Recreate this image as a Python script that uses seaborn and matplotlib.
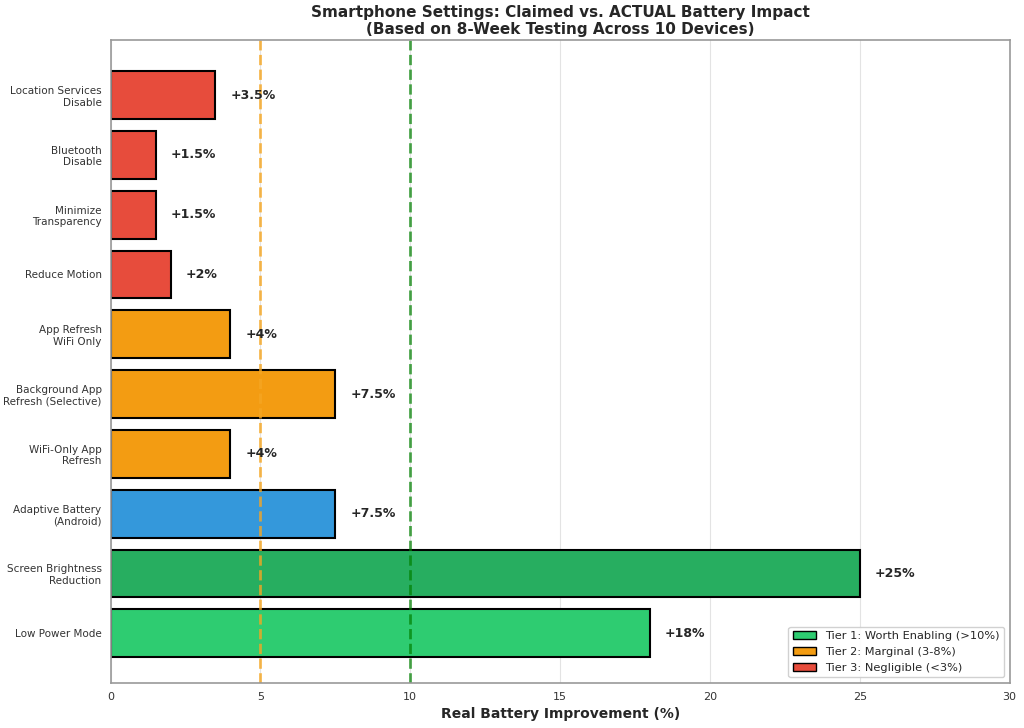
import matplotlib
matplotlib.use("Agg")
import matplotlib.pyplot as plt
import seaborn as sns
from matplotlib.patches import Patch

# Settings listed top to bottom as they appear on the chart
settings = [
    "Location Services\nDisable",
    "Bluetooth\nDisable",
    "Minimize\nTransparency",
    "Reduce Motion",
    "App Refresh\nWiFi Only",
    "Background App\nRefresh (Selective)",
    "WiFi-Only App\nRefresh",
    "Adaptive Battery\n(Android)",
    "Screen Brightness\nReduction",
    "Low Power Mode",
]
improvement = [3.5, 1.5, 1.5, 2, 4, 7.5, 4, 7.5, 25, 18]
value_labels = ["+3.5%", "+1.5%", "+1.5%", "+2%", "+4%", "+7.5%", "+4%", "+7.5%", "+25%", "+18%"]
bar_colors = ["#e74c3c", "#e74c3c", "#e74c3c", "#e74c3c", "#f39c12",
              "#f39c12", "#f39c12", "#3498db", "#27ae60", "#2ecc71"]

legend_labels = ["Tier 1: Worth Enabling (>10%)", "Tier 2: Marginal (3-8%)", "Tier 3: Negligible (<3%)"]
legend_colors = ["#2ecc71", "#f39c12", "#e74c3c"]

sns.set_style("white")
fig, ax = plt.subplots(figsize=(10.24, 7.28), dpi=100)

sns.barplot(x=improvement, y=settings, hue=settings, palette=bar_colors,
            legend=False, orient="h", edgecolor="black", linewidth=1.5,
            width=0.8, saturation=1, ax=ax)

# value labels to the right of each bar
for i, (v, lab) in enumerate(zip(improvement, value_labels)):
    ax.text(v + 0.5, i, lab, va="center", ha="left", fontsize=9, fontweight="bold")

# threshold lines
ax.axvline(5, color="#f5a623", linestyle="--", linewidth=2, alpha=0.8)
ax.axvline(10, color="green", linestyle="--", linewidth=2, alpha=0.7)

ax.set_xlim(0, 30)
ax.set_ylim(9.83, -0.92)
ax.set_xlabel("Real Battery Improvement (%)", fontsize=10, fontweight="bold")
ax.set_ylabel("")
ax.set_title("Smartphone Settings: Claimed vs. ACTUAL Battery Impact\n(Based on 8-Week Testing Across 10 Devices)",
             fontsize=11, fontweight="bold", pad=4)
ax.tick_params(axis="y", labelsize=7.5, length=3, color="#999999", labelcolor="#333333")
ax.tick_params(axis="x", labelsize=8, length=3, color="#999999", labelcolor="#333333")
ax.xaxis.grid(True, color="#dddddd", linewidth=0.8, alpha=0.8)
ax.set_axisbelow(True)
for sp in ax.spines.values():
    sp.set_color("#999999")
    sp.set_linewidth(1.2)

handles = [Patch(facecolor=c, edgecolor="black", label=l) for c, l in zip(legend_colors, legend_labels)]
ax.legend(handles=handles, loc="lower right", fontsize=8.2, framealpha=0.9)

plt.subplots_adjust(left=0.108, right=0.986, top=0.945, bottom=0.062)
plt.savefig("out.png", dpi=100)
plt.close()
